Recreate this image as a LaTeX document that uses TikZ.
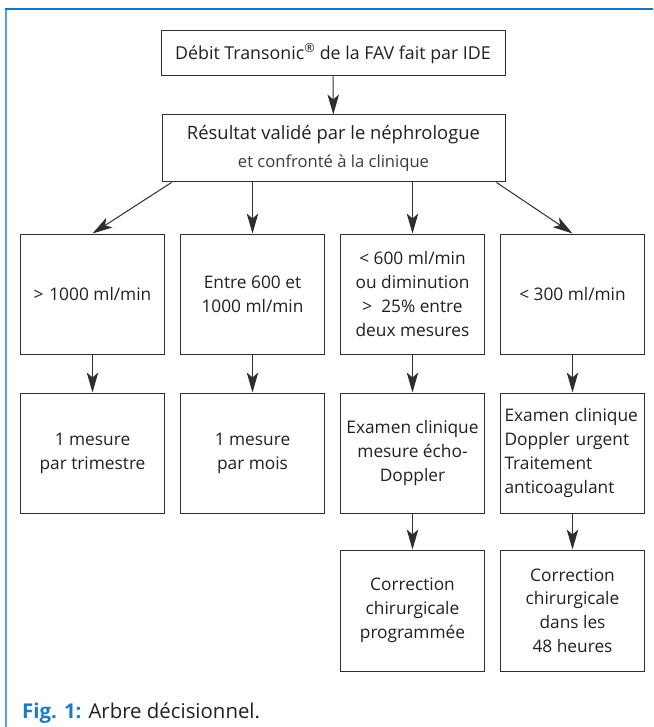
\documentclass[tikz,border=0pt]{standalone}
\usepackage{fontspec}
\setmainfont{Open Sans}
\usetikzlibrary{arrows.meta}
\definecolor{frametop}{HTML}{1B75BB}
\definecolor{frameleft}{HTML}{4DA8E2}
\definecolor{figblue}{HTML}{1B7BC4}
\definecolor{boxline}{HTML}{2E2E2E}
\definecolor{ink}{HTML}{231F20}
\definecolor{inklight}{HTML}{3C3A3B}
\newcommand{\bodyfnt}{\fontsize{17.3}{23.8}\selectfont}
\newcommand{\headfnt}{\fontsize{17.8}{24}\selectfont}
\begin{document}
\begin{tikzpicture}[x=1pt,y=-1pt,
  box/.style={draw=boxline, line width=1pt, minimum width=144pt, minimum height=120pt,
    inner sep=0pt, align=center, text=ink, font=\bodyfnt},
  arr/.style={draw=boxline, line width=1pt, -{Stealth[length=20pt,width=11.5pt,inset=5pt]}}]
\useasboundingbox (0,0) rectangle (653,727);
% frame
\draw[frameleft, line width=1.6pt] (5.7,9.3) -- (5.7,727);
\draw[frametop, line width=1.6pt] (5,9.3) -- (653,9.3);
% top
\node[box, font=\headfnt, minimum width=344pt, minimum height=45pt] (top) at (333,53.5)
  {Débit Transonic\textsuperscript{®} de la FAV fait par IDE};
\node[box, font=\headfnt, minimum width=343pt, minimum height=67pt] (res) at (333.5,148.5)
  {{\fontsize{18.4}{24}\selectfont Résultat validé par le néphrologue}\\[4pt]{\fontsize{16.6}{18}\selectfont\color{inklight} et confronté à la clinique}};
% row 1
\node[box] (a1) at (92.5,294) {>\,\,1000 ml/min};
\node[box] (b1) at (252.5,294) {Entre 600 et\\1000 ml/min};
\node[box] (c1) at (412.5,294) {< 600 ml/min\\ou diminution\\>~~25\% entre\\deux mesures};
\node[box] (d1) at (572.5,294) {< 300 ml/min};
% row 2
\node[box] (a2) at (92.5,453) {1 mesure\\par trimestre};
\node[box] (b2) at (252.5,453) {1 mesure\\par mois};
\node[box] (c2) at (412.5,453) {Examen clinique\\mesure écho-\\Doppler};
\node[box, align=left, text width=136pt] (d2) at (572.5,453)
  {Examen clinique\\Doppler urgent\\Traitement\\anticoagulant};
% row 3
\node[box, minimum height=121pt] (c3) at (412.5,610.5) {Correction\\chirurgicale\\programmée};
\node[box, minimum height=121pt] (d3) at (572.5,610.5) {Correction\\chirurgicale\\dans les\\48 heures};
% caption
\node[anchor=base west, inner sep=0pt, font=\fontsize{20.4}{23}\selectfont, text=ink] (cap) at (22,718)
  {\textcolor{figblue}{\bfseries Fig. 1:} Arbre décisionnel.};
% arrows
\draw[arr] (top) -- (res);
\draw[arr] ([xshift=10pt]res.south west) -- (a1.north);
\draw[arr] (res.south -| b1.north) -- (b1.north);
\draw[arr] (res.south -| c1.north) -- (c1.north);
\draw[arr] ([xshift=-9pt]res.south east) -- (d1.north);
\draw[arr] (a1) -- (a2);
\draw[arr] (b1) -- (b2);
\draw[arr] (c1) -- (c2);
\draw[arr] (d1) -- (d2);
\draw[arr] (c2) -- (c3);
\draw[arr] (d2) -- (d3);
\end{tikzpicture}
\end{document}
